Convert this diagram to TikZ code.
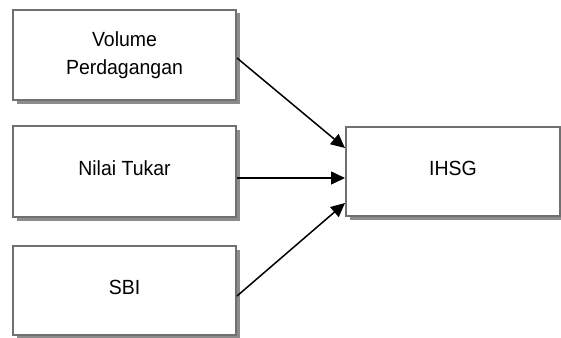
\documentclass[tikz,border=0pt]{standalone}
\usepackage{fontspec}
\setmainfont[FakeStretch=0.95]{Liberation Sans}
\usetikzlibrary{arrows.meta,shadows}

\definecolor{bingkai}{RGB}{112,112,112}
\definecolor{bayang}{RGB}{140,140,140}

\begin{document}
\begin{tikzpicture}[x=1pt,y=-1pt,
    kotak/.style={rectangle, draw=bingkai, line width=2pt, fill=white,
      minimum width=223pt, align=center,
      font=\fontsize{20.5pt}{28pt}\selectfont,
      drop shadow={shadow xshift=3.5pt, shadow yshift=-3.5pt, fill=bayang, opacity=1}},
    satu/.style={text height=15pt, text depth=8pt},
    panah/.style={-{Triangle[length=14pt,width=13pt]}, line width=1.5pt}]
  \useasboundingbox (0,0) rectangle (561,337);
  % variabel bebas
  \node[kotak, minimum height=90pt] (volume) at (124.5,55) {Volume\\Perdagangan};
  \node[kotak, satu, minimum height=91pt] (nilai) at (124.5,171.5) {Nilai Tukar};
  \node[kotak, satu, minimum height=89pt] (sbi) at (124.5,290.5) {SBI};
  % variabel terikat
  \node[kotak, satu, minimum width=214pt, minimum height=89pt] (ihsg) at (453,171.5) {IHSG};
  \draw[panah] ([yshift=-3pt]volume.east) -- ([yshift=23.5pt]ihsg.west);
  \draw[panah] ([yshift=-6.5pt]nilai.east) -- ([yshift=-6.5pt]ihsg.west);
  \draw[panah] ([yshift=-5.5pt]sbi.east) -- ([yshift=-31.5pt]ihsg.west);
\end{tikzpicture}
\end{document}
